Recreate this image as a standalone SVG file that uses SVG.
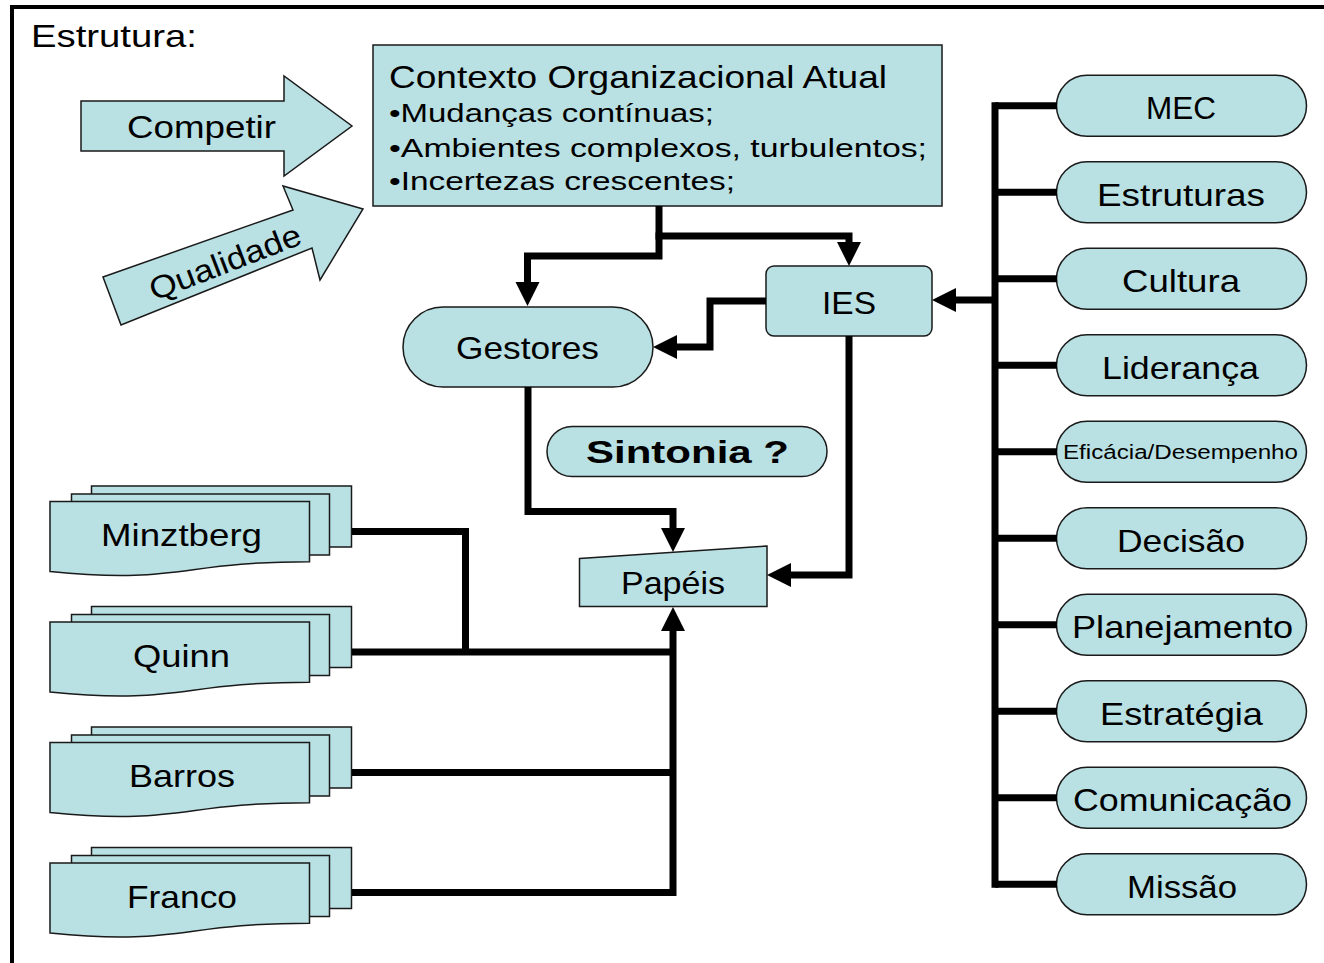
<svg xmlns="http://www.w3.org/2000/svg" xmlns:xlink="http://www.w3.org/1999/xlink" width="1324" height="963" viewBox="0 0 1324 963">
  <style>
    .shape { fill: #B9E0E3; stroke: #1a1a1a; stroke-width: 1.5; }
    .txt { font-family: "Liberation Sans", Arial, sans-serif; font-size: 31.5px; fill: #000; }
    .small { font-size: 26px; }
    .tiny { font-size: 20px; }
    .bold { font-weight: bold; }
    .wire { fill: none; stroke: #000; stroke-width: 7; stroke-linejoin: miter; stroke-linecap: butt; }
    .arrow { marker-end: url(#ah); }
  </style>
  <defs>
    <marker id="ah" markerUnits="userSpaceOnUse" markerWidth="24" markerHeight="24" refX="0" refY="12" orient="auto" overflow="visible">
      <path d="M0,0 L24,12 L0,24 Z" fill="#000"/>
    </marker>
    <!-- stack of three documents, front sheet with wavy bottom -->
    <g id="docStack">
      <rect class="shape" x="91.5" y="486" width="260" height="61"/>
      <rect class="shape" x="71.5" y="494" width="258" height="61"/>
      <path class="shape" d="M50,501.5 H309.5 V561.7 C179.75,561.7 179.75,584.5 50,571.6 Z"/>
    </g>
  </defs>

  <rect width="1324" height="963" fill="#fff"/>
  <!-- outer frame -->
  <path d="M12,963 V7 H1324" fill="none" stroke="#000" stroke-width="4"/>
  <text class="txt" x="31" y="47" textLength="166" lengthAdjust="spacingAndGlyphs">Estrutura:</text>

  <g id="competir">
    <polygon class="shape" points="81,101 284,101 284,76 352,126 284,176 284,151 81,151"/>
    <text class="txt" x="127" y="138" textLength="149" lengthAdjust="spacingAndGlyphs">Competir</text>
  </g>

  <g id="qualidade">
    <polygon class="shape" points="103,277 293,210 283,186 363,209 320,280 312,248 121,325"/>
    <g transform="translate(225,262) rotate(-21)">
      <text class="txt" x="-80" y="11" textLength="160" lengthAdjust="spacingAndGlyphs">Qualidade</text>
    </g>
  </g>

  <g id="contexto">
    <rect class="shape" x="373" y="45" width="569" height="161"/>
    <text class="txt" x="389" y="88" textLength="498" lengthAdjust="spacingAndGlyphs">Contexto Organizacional Atual</text>
    <text class="txt small" x="389" y="122" textLength="325" lengthAdjust="spacingAndGlyphs">•Mudanças contínuas;</text>
    <text class="txt small" x="389" y="157" textLength="538" lengthAdjust="spacingAndGlyphs">•Ambientes complexos, turbulentos;</text>
    <text class="txt small" x="389" y="190" textLength="346" lengthAdjust="spacingAndGlyphs">•Incertezas crescentes;</text>
  </g>

  <g id="gestores">
    <rect class="shape" x="403" y="307" width="250" height="80" rx="40" ry="40"/>
    <text class="txt" x="456" y="359" textLength="143" lengthAdjust="spacingAndGlyphs">Gestores</text>
  </g>

  <g id="ies">
    <rect class="shape" x="766" y="266" width="166" height="70" rx="8" ry="8"/>
    <text class="txt" x="822" y="313.5" textLength="54" lengthAdjust="spacingAndGlyphs">IES</text>
  </g>

  <g id="sintonia">
    <rect class="shape" x="547" y="426.5" width="280" height="50" rx="25" ry="25"/>
    <text class="txt bold" x="586" y="463" textLength="203" lengthAdjust="spacingAndGlyphs">Sintonia ?</text>
  </g>

  <g id="papeis">
    <polygon class="shape" points="579.5,558.5 767,546 767,606.5 579.5,606.5"/>
    <text class="txt" x="621" y="594" textLength="104" lengthAdjust="spacingAndGlyphs">Papéis</text>
  </g>

  <g id="minztberg">
    <use xlink:href="#docStack"/>
    <text class="txt" x="101" y="546" textLength="161" lengthAdjust="spacingAndGlyphs">Minztberg</text>
  </g>
  <g id="quinn" transform="translate(0,120.5)">
    <use xlink:href="#docStack"/>
    <text class="txt" x="133" y="546" textLength="97" lengthAdjust="spacingAndGlyphs">Quinn</text>
  </g>
  <g id="barros" transform="translate(0,241)">
    <use xlink:href="#docStack"/>
    <text class="txt" x="129" y="546" textLength="106" lengthAdjust="spacingAndGlyphs">Barros</text>
  </g>
  <g id="franco" transform="translate(0,361.5)">
    <use xlink:href="#docStack"/>
    <text class="txt" x="127" y="546" textLength="110" lengthAdjust="spacingAndGlyphs">Franco</text>
  </g>

  <!-- factor list on the right -->
  <g id="mec">
    <rect class="shape" x="1056.5" y="75.3" width="250" height="61" rx="30.5" ry="30.5"/>
    <text class="txt" x="1146" y="119.3" textLength="70" lengthAdjust="spacingAndGlyphs">MEC</text>
  </g>
  <g id="estruturas">
    <rect class="shape" x="1056.5" y="161.8" width="250" height="61" rx="30.5" ry="30.5"/>
    <text class="txt" x="1097" y="205.8" textLength="168" lengthAdjust="spacingAndGlyphs">Estruturas</text>
  </g>
  <g id="cultura">
    <rect class="shape" x="1056.5" y="248.3" width="250" height="61" rx="30.5" ry="30.5"/>
    <text class="txt" x="1122" y="292.3" textLength="118" lengthAdjust="spacingAndGlyphs">Cultura</text>
  </g>
  <g id="lideranca">
    <rect class="shape" x="1056.5" y="334.8" width="250" height="61" rx="30.5" ry="30.5"/>
    <text class="txt" x="1102" y="378.8" textLength="157" lengthAdjust="spacingAndGlyphs">Liderança</text>
  </g>
  <g id="eficacia">
    <rect class="shape" x="1056.5" y="421.3" width="250" height="61" rx="30.5" ry="30.5"/>
    <text class="txt tiny" x="1063" y="459.3" textLength="235" lengthAdjust="spacingAndGlyphs">Eficácia/Desempenho</text>
  </g>
  <g id="decisao">
    <rect class="shape" x="1056.5" y="507.8" width="250" height="61" rx="30.5" ry="30.5"/>
    <text class="txt" x="1117" y="551.8" textLength="128" lengthAdjust="spacingAndGlyphs">Decisão</text>
  </g>
  <g id="planejamento">
    <rect class="shape" x="1056.5" y="594.3" width="250" height="61" rx="30.5" ry="30.5"/>
    <text class="txt" x="1072" y="638.3" textLength="221" lengthAdjust="spacingAndGlyphs">Planejamento</text>
  </g>
  <g id="estrategia">
    <rect class="shape" x="1056.5" y="680.8" width="250" height="61" rx="30.5" ry="30.5"/>
    <text class="txt" x="1100" y="724.8" textLength="163" lengthAdjust="spacingAndGlyphs">Estratégia</text>
  </g>
  <g id="comunicacao">
    <rect class="shape" x="1056.5" y="767.3" width="250" height="61" rx="30.5" ry="30.5"/>
    <text class="txt" x="1073" y="811.3" textLength="219" lengthAdjust="spacingAndGlyphs">Comunicação</text>
  </g>
  <g id="missao">
    <rect class="shape" x="1056.5" y="853.8" width="250" height="61" rx="30.5" ry="30.5"/>
    <text class="txt" x="1127" y="897.8" textLength="110" lengthAdjust="spacingAndGlyphs">Missão</text>
  </g>

  <g id="connectors">
    <!-- context to IES and Gestores -->
    <path class="wire arrow" d="M659,206 V236 H849 V242"/>
    <path class="wire arrow" d="M659,232.5 V256 H527.5 V282"/>
    <!-- IES to Gestores -->
    <path class="wire arrow" d="M766,301 H710 V347 H677"/>
    <!-- factor bus to IES -->
    <path class="wire" d="M995,102.3 V887.8"/>
    <path class="wire arrow" d="M995,300 H956"/>
    <path class="wire" d="M995,105.8 H1057 M995,192.3 H1057 M995,278.8 H1057 M995,365.3 H1057 M995,451.8 H1057 M995,538.3 H1057 M995,624.8 H1057 M995,711.3 H1057 M995,797.8 H1057 M995,884.3 H1057"/>
    <!-- IES to Papéis -->
    <path class="wire arrow" d="M849,336 V575 H791"/>
    <!-- Gestores to Papéis -->
    <path class="wire arrow" d="M528,387 V511.5 H673 V528"/>
    <!-- authors to Papéis -->
    <path class="wire" d="M352,531.5 H465.5 V652"/>
    <path class="wire" d="M352,652 H673"/>
    <path class="wire" d="M352,772.5 H673"/>
    <path class="wire arrow" d="M352,892.5 H673 V631"/>
  </g>
</svg>
